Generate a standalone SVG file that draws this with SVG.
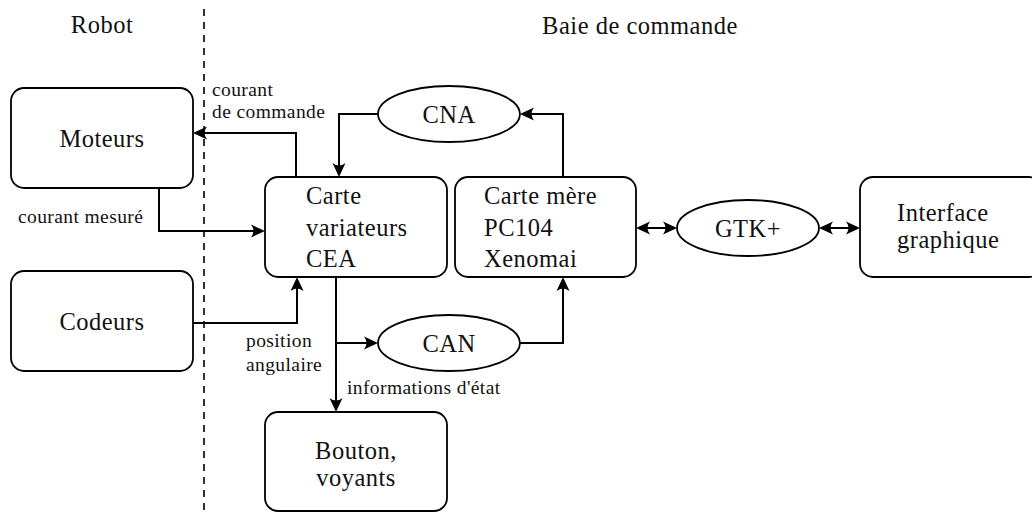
<svg xmlns="http://www.w3.org/2000/svg" width="1032" height="516" viewBox="0 0 1032 516">
<style>
.box{fill:#fff;stroke:#000;stroke-width:1.8}
.ell{fill:#fff;stroke:#000;stroke-width:1.8}
.t{font-family:'Liberation Serif','DejaVu Serif',serif;font-size:24.5px;fill:#111;letter-spacing:0.5px}
.s{font-family:'Liberation Serif','DejaVu Serif',serif;font-size:19.5px;fill:#111;letter-spacing:0.4px}
.c{text-anchor:middle}
.ln{fill:none;stroke:#000;stroke-width:2}
.arr{marker-end:url(#ah)}
.dbl{marker-start:url(#ah);marker-end:url(#ah)}
</style>
<defs>
<marker id="ah" markerUnits="userSpaceOnUse" orient="auto-start-reverse" refX="0" refY="0" markerWidth="26" markerHeight="26" overflow="visible">
<path d="M3,0 L-11,-6.5 Q-6,0 -11,6.5 Z" fill="#000"/>
</marker>
</defs>
<rect width="1032" height="516" fill="#fff"/>
<line x1="204" y1="9" x2="204" y2="516" stroke="#000" stroke-width="1.6" stroke-dasharray="7,6"/>
<text class="t c" x="102" y="33">Robot</text>
<text class="t c" x="640" y="34">Baie de commande</text>

<g id="moteurs">
<rect class="box" x="11" y="88" width="182" height="100" rx="13"/>
<text class="t c" x="102" y="147">Moteurs</text>
</g>
<g id="codeurs">
<rect class="box" x="11" y="271" width="182" height="100" rx="13"/>
<text class="t c" x="102" y="330">Codeurs</text>
</g>
<g id="carte-variateurs">
<rect class="box" x="265" y="177" width="182" height="100" rx="13"/>
<text class="t" x="306" y="204">Carte</text>
<text class="t" x="306" y="236">variateurs</text>
<text class="t" x="306" y="267">CEA</text>
</g>
<g id="carte-mere">
<rect class="box" x="455" y="177" width="181" height="100" rx="13"/>
<text class="t" x="484" y="204">Carte mère</text>
<text class="t" x="484" y="236">PC104</text>
<text class="t" x="484" y="267">Xenomai</text>
</g>
<g id="interface">
<rect class="box" x="860" y="177" width="182" height="100" rx="13"/>
<text class="t" x="897" y="221">Interface</text>
<text class="t" x="897" y="248">graphique</text>
</g>
<g id="bouton">
<rect class="box" x="265" y="412" width="182" height="99" rx="13"/>
<text class="t c" x="356" y="459">Bouton,</text>
<text class="t c" x="356" y="486">voyants</text>
</g>
<g id="cna">
<ellipse class="ell" cx="449" cy="114" rx="71" ry="28"/>
<text class="t c" x="449" y="123">CNA</text>
</g>
<g id="can">
<ellipse class="ell" cx="449" cy="343" rx="71" ry="28"/>
<text class="t c" x="449" y="352">CAN</text>
</g>
<g id="gtk">
<ellipse class="ell" cx="748" cy="228" rx="71" ry="28"/>
<text class="t c" x="748" y="237">GTK+</text>
</g>

<g id="connectors">
<path class="ln arr" d="M296,177 V133 H196"/>
<path class="ln arr" d="M378,114 H339 V174"/>
<path class="ln arr" d="M563,177 V114 H523"/>
<path class="ln arr" d="M159,188 V231 H262"/>
<path class="ln arr" d="M193,323 H297 V280"/>
<path class="ln arr" d="M336,277 V409"/>
<path class="ln arr" d="M336,343 H375"/>
<path class="ln arr" d="M520,343 H563 V280"/>
<path class="ln dbl" d="M639,228 H674"/>
<path class="ln dbl" d="M822,228 H857"/>
<text class="s" x="212" y="96">courant</text>
<text class="s" x="212" y="118">de commande</text>
<text class="s" x="18" y="223">courant mesuré</text>
<text class="s" x="246" y="347">position</text>
<text class="s" x="246" y="371">angulaire</text>
<text class="s" x="347" y="394">informations d'état</text>
</g>
</svg>
